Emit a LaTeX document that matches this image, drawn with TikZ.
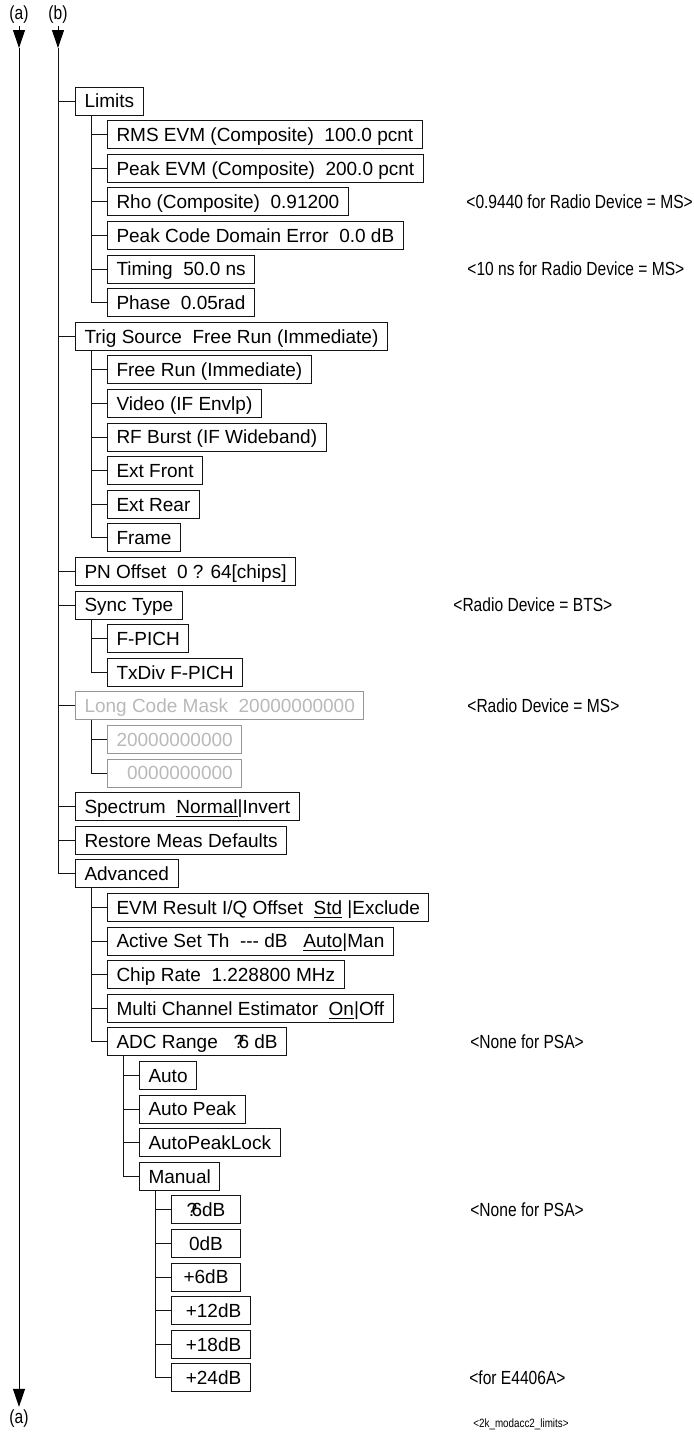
\documentclass[tikz,border=0pt]{standalone}
\usepackage{fontspec}
\setmainfont{Liberation Sans}
\newfontfamily\narrowfont[FakeStretch=0.82]{Liberation Sans}
\usetikzlibrary{arrows.meta}
\usepackage{xcolor}
\definecolor{mnline}{RGB}{20,20,20}
\definecolor{mngrayline}{RGB}{150,150,150}
\definecolor{mngraytext}{RGB}{185,185,185}
\tikzset{
    menubox/.style={
        draw=mnline,line width=0.5pt,anchor=west,
        inner xsep=4.5pt,inner ysep=0pt,minimum height=14pt,
        text height=6.8pt,text depth=0pt,
        font=\fontsize{9.5}{11}\selectfont
    },
    dimbox/.style={
        menubox,draw=mngrayline,text=mngraytext
    },
    dbbox/.style={
        menubox,minimum width=34.5pt
    },
    remark/.style={
        anchor=west,inner sep=0pt,
        font=\narrowfont\fontsize{9.5}{11}\selectfont
    },
    tag/.style={
        inner sep=1pt,font=\narrowfont\fontsize{9.5}{11}\selectfont
    },
    branch/.style={line width=0.5pt,draw=mnline},
    arrow/.style={
        -{Triangle[length=9pt,width=6pt]},line width=0.5pt,draw=black
    }
}

\begin{document}
\begin{tikzpicture}[x=0.5pt,y=-16.8pt]

\useasboundingbox (0,-3.006) rectangle (694,39.643);

\node[tag] (atop) at (19,-2.56) {(a)};
\node[tag] (btop) at (58,-2.56) {(b)};
\node[tag] (abot) at (19,39.2) {(a)};
\coordinate (a1) at (19,-1.577);
\coordinate (b1) at (58,-1.577);

\node[menubox] (lim) at (75,0) {Limits};
\node[menubox] (rms) at (107,1) {RMS EVM (Composite)\ \ 100.0 pcnt};
\node[menubox] (peakevm) at (107,2) {Peak EVM (Composite)\ \ 200.0 pcnt};
\node[menubox] (rho) at (107,3) {Rho (Composite)\ \ 0.91200};
\node[menubox] (pcde) at (107,4) {Peak Code Domain Error\ \ 0.0 dB};
\node[menubox] (timing) at (107,5) {Timing\ \ 50.0 ns};
\node[menubox] (phase) at (107,6) {Phase\ \ 0.05rad};

\node[menubox] (trig) at (75,7) {Trig Source\ \ Free Run (Immediate)};
\node[menubox] (freerun) at (107,8) {Free Run (Immediate)};
\node[menubox] (video) at (107,9) {Video (IF Envlp)};
\node[menubox] (rfburst) at (107,10) {RF Burst (IF Wideband)};
\node[menubox] (extfront) at (107,11) {Ext Front};
\node[menubox] (extrear) at (107,12) {Ext Rear};
\node[menubox] (frame) at (107,13) {Frame};

\node[menubox] (pn) at (75,14) {PN Offset\ \ 0 ? 64[chips]};
\node[menubox] (sync) at (75,15) {Sync Type};
\node[menubox] (fpich) at (107,16) {F-PICH};
\node[menubox] (txdiv) at (107,17) {TxDiv F-PICH};

\node[dimbox] (lcm) at (75,18) {Long Code Mask\ \ 20000000000};
\node[dimbox] (lcmhi) at (107,19) {20000000000};
\node[dimbox] (lcmlo) at (107,20) {\hphantom{2}0000000000};

\node[menubox] (spec) at (75,21) {Spectrum\ \ \underline{Normal}|Invert};
\node[menubox] (restore) at (75,22) {Restore Meas Defaults};
\node[menubox] (adv) at (75,23) {Advanced};
\node[menubox] (evm) at (107,24) {EVM Result I/Q Offset\ \ \underline{Std} |Exclude};
\node[menubox] (ast) at (107,25) {Active Set Th\ \ -{}-{}- dB\ \ \ \underline{Auto}|Man};
\node[menubox] (chip) at (107,26) {Chip Rate\ \ 1.228800 MHz};
\node[menubox] (mce) at (107,27) {Multi Channel Estimator\ \ \underline{On}|Off};
\node[menubox] (adc) at (107,28) {ADC Range\ \ \ ?\kern-.3em6 dB};

\node[menubox] (auto) at (139,29) {Auto};
\node[menubox] (autopeak) at (139,30) {Auto Peak};
\node[menubox] (apl) at (139,31) {AutoPeakLock};
\node[menubox] (manual) at (139,32) {Manual};

\node[dbbox] (dbm6) at (171,33) {?\kern-.3em6dB};
\node[dbbox] (db0) at (171,34) {0dB};
\node[dbbox] (dbp6) at (171,35) {+6dB};
\node[dbbox] (dbp12) at (171,36) {\ +12dB};
\node[dbbox] (dbp18) at (171,37) {\ +18dB};
\node[dbbox] (dbp24) at (171,38) {\ +24dB};

\node[remark] (nrho) at (466,3) {<0.9440 for Radio Device = MS>};
\node[remark] (ntiming) at (467,5) {<10 ns for Radio Device = MS>};
\node[remark] (nsync) at (453,15) {<Radio Device = BTS>};
\node[remark] (nlcm) at (467,18) {<Radio Device = MS>};
\node[remark] (nadc) at (470,28) {<None for PSA>};
\node[remark] (ndbm6) at (470,33) {<None for PSA>};
\node[remark] (ndbp24) at (469,38) {<for E4406A>};
\node[remark,font=\narrowfont\fontsize{6}{7}\selectfont] (fname) at (473,39.375)
{<2k\_modacc2\_limits>};

\draw[arrow](atop)--(a1);
\draw[arrow](a1)--(abot);
\draw[arrow](btop)--(b1);

\draw[branch](b1)|-(adv.west);
\foreach \n in {lim,trig,pn,sync,lcm,spec,restore}
    \draw[branch](b1|-\n.west)--(\n.west);
\foreach \n in {rms,peakevm,rho,pcde,timing,phase}
    \draw[branch]([xshift=8pt]lim.south west)|-(\n.west);
\foreach \n in {freerun,video,rfburst,extfront,extrear,frame}
    \draw[branch]([xshift=8pt]trig.south west)|-(\n.west);
\foreach \n in {fpich,txdiv}
    \draw[branch]([xshift=8pt]sync.south west)|-(\n.west);
\foreach \n in {lcmhi,lcmlo}
    \draw[branch]([xshift=8pt]lcm.south west)|-(\n.west);
\foreach \n in {evm,ast,chip,mce,adc}
    \draw[branch]([xshift=8pt]adv.south west)|-(\n.west);
\foreach \n in {auto,autopeak,apl,manual}
    \draw[branch]([xshift=8pt]adc.south west)|-(\n.west);
\foreach \n in {dbm6,db0,dbp6,dbp12,dbp18,dbp24}
    \draw[branch]([xshift=8pt]manual.south west)|-(\n.west);

\end{tikzpicture}
\end{document}
